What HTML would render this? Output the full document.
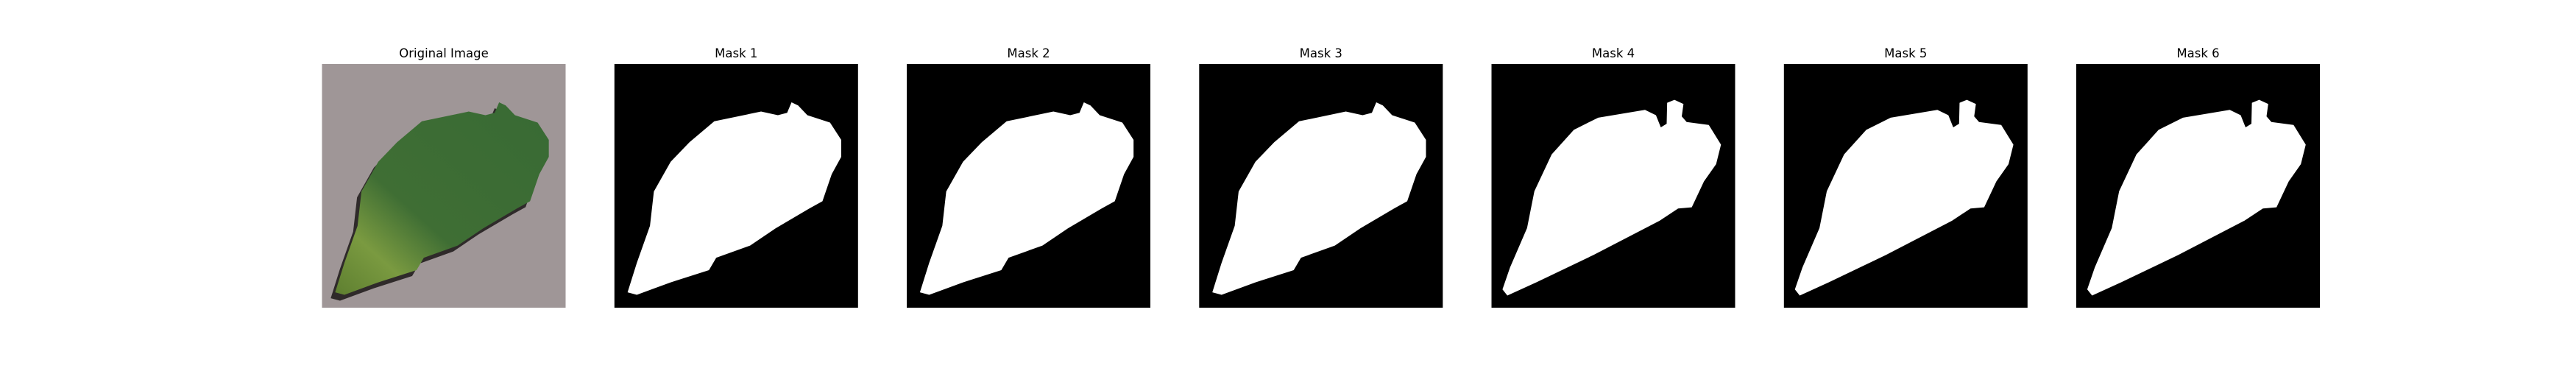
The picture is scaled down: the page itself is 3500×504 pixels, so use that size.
<!DOCTYPE html>
<html><head><meta charset="utf-8"><style>
body{margin:0;background:#fff;width:3500px;height:500px;overflow:hidden;font-family:"DejaVu Sans","Liberation Sans",sans-serif}
</style></head><body>
<svg id="fig" width="3500" height="500" xmlns="http://www.w3.org/2000/svg">
<defs>
<linearGradient id="lg" x1="0" y1="1" x2="1" y2="0">
<stop offset="0" stop-color="#5e7f30"/><stop offset="0.2" stop-color="#7a9a40"/><stop offset="0.4" stop-color="#3f6e34"/><stop offset="1" stop-color="#386a34"/>
</linearGradient>
</defs>
</svg>
<script>
const titles=["Original Image","Mask 1","Mask 2","Mask 3","Mask 4","Mask 5","Mask 6"];
const panelX=[437.5,834.8,1232,1629.3,2026.5,2423.8,2821];
const shapeA=[[0.410,0.235],[0.602,0.195],[0.671,0.210],[0.709,0.200],[0.727,0.157],[0.754,0.170],[0.792,0.210],[0.885,0.240],[0.931,0.311],[0.931,0.381],[0.892,0.452],[0.854,0.563],[0.800,0.593],[0.662,0.674],[0.557,0.745],[0.418,0.795],[0.388,0.846],[0.231,0.896],[0.092,0.947],[0.054,0.937],[0.092,0.816],[0.146,0.664],[0.162,0.523],[0.231,0.401],[0.308,0.321]];
const shapeB=[[0.045,0.925],[0.076,0.835],[0.146,0.673],[0.176,0.522],[0.247,0.371],[0.338,0.270],[0.438,0.220],[0.630,0.188],[0.675,0.210],[0.695,0.260],[0.719,0.245],[0.721,0.159],[0.751,0.147],[0.788,0.164],[0.781,0.215],[0.801,0.238],[0.892,0.250],[0.942,0.331],[0.922,0.411],[0.872,0.482],[0.822,0.588],[0.766,0.593],[0.690,0.643],[0.418,0.784],[0.186,0.895],[0.065,0.950]];
const svg=document.getElementById('fig');
const NS="http://www.w3.org/2000/svg";
const Y=87,S=331;
function pts(sh,x0,dx,dy){return sh.map(p=>(x0+p[0]*S+dx)+','+(Y+p[1]*S+dy)).join(' ');}
titles.forEach((t,i)=>{
 const x0=panelX[i];
 const g=document.createElementNS(NS,'g');
 
 
 const r=document.createElementNS(NS,'rect');
 r.setAttribute('x',x0);r.setAttribute('y',Y);r.setAttribute('width',S);r.setAttribute('height',S);
 r.setAttribute('fill',i===0?'#9f9697':'#000');
 
 
 g.appendChild(r);
 const sh=(i===0||i<=3)?shapeA:shapeB;
 if(i===0){
  const sd=document.createElementNS(NS,'polygon');
  sd.setAttribute('points',pts(shapeA,x0,-6,8));sd.setAttribute('fill','#2f2a2a');
  
  
  g.appendChild(sd);
 }
 const p=document.createElementNS(NS,'polygon');
 p.setAttribute('points',pts(sh,x0,0,0));
 p.setAttribute('fill',i===0?'url(#lg)':'#fff');
 p.setAttribute('stroke-linejoin','round');
 
 
 g.appendChild(p);
 const tx=document.createElementNS(NS,'text');
 tx.setAttribute('x',x0+S/2);tx.setAttribute('y',78);
 tx.setAttribute('text-anchor','middle');tx.setAttribute('font-size','16.5');
 tx.setAttribute('fill','#000');
 tx.textContent=t;
 
 
 g.appendChild(tx);
 svg.appendChild(g);
});
</script>
</body></html>
